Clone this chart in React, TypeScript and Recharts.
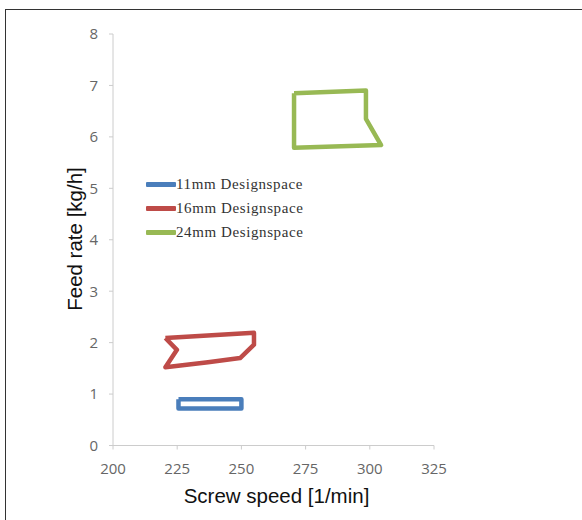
import React from 'react';
import { ComposedChart, Line, XAxis, YAxis, Label } from 'recharts';

// ---- data ----
const xTicks = [200, 225, 250, 275, 300, 325];
const yTicks = [0, 1, 2, 3, 4, 5, 6, 7, 8];
const seriesNames = ['11mm Designspace', '16mm Designspace', '24mm Designspace'];
const seriesColors = ['#4a7ebb', '#be4b48', '#98b954'];

const design11 = [
  { x: 225.5, y: 0.9 },
  { x: 250, y: 0.9 },
  { x: 250, y: 0.72 },
  { x: 225.5, y: 0.72 },
  { x: 225.5, y: 0.9 },
];
const design16 = [
  { x: 220.4, y: 2.09 },
  { x: 254.9, y: 2.19 },
  { x: 254.9, y: 1.96 },
  { x: 249.5, y: 1.7 },
  { x: 237, y: 1.62 },
  { x: 220.4, y: 1.52 },
  { x: 224.9, y: 1.86 },
  { x: 220.4, y: 2.09 },
];
const design24 = [
  { x: 270.5, y: 6.85 },
  { x: 298.5, y: 6.9 },
  { x: 298.5, y: 6.35 },
  { x: 304.4, y: 5.84 },
  { x: 270.5, y: 5.79 },
  { x: 270.5, y: 6.85 },
];
const seriesData = [design11, design16, design24];

const tickStyle = { fontSize: 15, fill: '#666', fontFamily: '"Open Sans", sans-serif' };

const XLabel = (props: any) => {
  const vb = props.viewBox;
  return (
    <text x={vb.x + vb.width / 2 + 3} y={vb.y + 57.5} textAnchor="middle" fontSize={20.5}
      fontFamily='"Liberation Sans", Arial, sans-serif' fill="#111">
      Screw speed [1/min]
    </text>
  );
};

const YLabel = () => {
  const cx = 74.5;
  const cy = 239;
  return (
    <text x={cx} y={cy} dy="0.35em" textAnchor="middle" fontSize={20.5}
      transform={`rotate(-90, ${cx}, ${cy})`}
      fontFamily='"Liberation Sans", Arial, sans-serif' fill="#111">
      Feed rate [kg/h]
    </text>
  );
};

export default function App() {
  return (
    <div style={{ position: 'absolute', left: 0, top: 0, width: 582, height: 520, background: '#fff', overflow: 'hidden' }}>
      <div style={{ position: 'absolute', left: 5, top: 8.5, width: 600, height: 600, borderTop: '1.5px solid #333', borderLeft: '1.5px solid #333' }} />
      <div style={{ position: 'absolute', left: 0, top: 0 }}>
        <ComposedChart width={582} height={520} margin={{ top: 34, right: 148, bottom: 44.5, left: 53 }}>
          <XAxis type="number" dataKey="x" domain={[200, 325]} ticks={xTicks} allowDataOverflow
            stroke="#cccccc" tickSize={4} tickMargin={14} tick={tickStyle} height={30}>
            <Label content={XLabel} />
          </XAxis>
          <YAxis type="number" dataKey="y" domain={[0, 8]} ticks={yTicks} allowDataOverflow
            stroke="#cccccc" tickSize={4} tickMargin={11} tick={tickStyle} width={60}>
            <Label content={YLabel} />
          </YAxis>
          {seriesData.map((d, i) => (
            <Line key={seriesNames[i]} data={d} dataKey="y" name={seriesNames[i]} type="linear"
              stroke={seriesColors[i]} strokeWidth={4.5} strokeLinejoin="round" dot={false}
              activeDot={false} isAnimationActive={false} />
          ))}
        </ComposedChart>
      </div>
      <div style={{ position: 'absolute', left: 146, top: 172 }}>
        {seriesNames.map((n, i) => (
          <div key={n} style={{ display: 'flex', alignItems: 'center', height: 24.2 }}>
            <div style={{ width: 30, height: 5, background: seriesColors[i], borderRadius: 1 }} />
            <span style={{ fontFamily: '"Liberation Serif", serif', fontSize: 15, color: '#333', letterSpacing: 0.6, lineHeight: '15px' }}>
              {n}
            </span>
          </div>
        ))}
      </div>
    </div>
  );
}
